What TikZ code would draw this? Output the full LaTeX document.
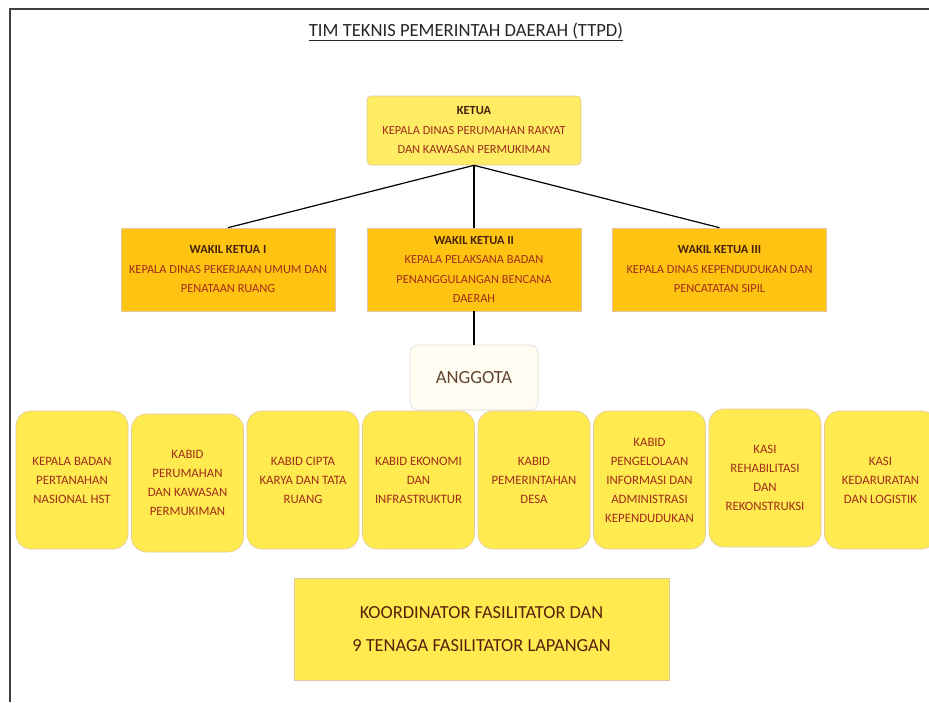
\documentclass[tikz,border=0pt]{standalone}
\usepackage{fontspec}
\setmainfont{Carlito}
\usepackage{tikz}
\usetikzlibrary{positioning,calc}
\definecolor{ketuakuning}{RGB}{253,236,100}
\definecolor{wakiloranye}{RGB}{255,196,18}
\definecolor{anggotakuning}{RGB}{255,234,80}
\definecolor{krem}{RGB}{255,253,242}
\definecolor{tepi}{RGB}{225,200,160}
\definecolor{teksmerah}{RGB}{160,45,25}
\definecolor{tekscoklat}{RGB}{70,35,10}
\tikzset{
  kotak/.style={draw=tepi, line width=0.6pt, align=center, text=teksmerah,
    font=\fontsize{12.4}{19.5}\selectfont, inner sep=2pt},
  ketuabox/.style={kotak, fill=ketuakuning, rounded corners=4pt,
    minimum width=214pt, minimum height=69pt},
  wakilbox/.style={kotak, fill=wakiloranye, minimum width=214pt, minimum height=83pt},
  anggotabox/.style={kotak, fill=anggotakuning, rounded corners=15pt,
    minimum width=112pt, minimum height=138pt, font=\fontsize{12.8}{19}\selectfont},
  garis/.style={line width=1.2pt, black}
}
\newcommand{\judul}[1]{{\bfseries\color{tekscoklat}#1}}
\begin{document}
\begin{tikzpicture}[x=1pt,y=1pt]
  \useasboundingbox (0,0) rectangle (929,-702);
  \draw[line width=1.8pt, black!75] (10,-702) -- (10,-9) -- (929,-9);
  \node[font=\fontsize{18.6}{22}\selectfont, text=black!85] (judul) at (466,-32)
    {\underline{TIM TEKNIS PEMERINTAH DAERAH (TTPD)}};

  \node[ketuabox] (ketua) at (474,-130.5)
    {\judul{KETUA}\\KEPALA DINAS PERUMAHAN RAKYAT\\DAN KAWASAN PERMUKIMAN};
  \node[wakilbox] (wk1) at (228,-269.5)
    {\judul{WAKIL KETUA I}\\KEPALA DINAS PEKERJAAN UMUM DAN\\PENATAAN RUANG};
  \node[wakilbox] (wk2) at (474,-269.5)
    {\judul{WAKIL KETUA II}\\KEPALA PELAKSANA BADAN\\PENANGGULANGAN BENCANA\\DAERAH};
  \node[wakilbox] (wk3) at (719.5,-269.5)
    {\judul{WAKIL KETUA III}\\KEPALA DINAS KEPENDUDUKAN DAN\\PENCATATAN SIPIL};
  \node[kotak, fill=krem, draw=black!15, rounded corners=8pt, text=tekscoklat!85,
    minimum width=128pt, minimum height=65pt,
    font=\fontsize{18.6}{22}\selectfont] (anggota) at (474,-377.5) {ANGGOTA};

  \draw[garis] (ketua.south) -- (wk1.north);
  \draw[garis] (ketua.south) -- (wk2.north);
  \draw[garis] (ketua.south) -- (wk3.north);
  \draw[garis] (wk2.south) -- (anggota.north);

  \node[anggotabox] (a1) at (72,-480) {KEPALA BADAN\\PERTANAHAN\\NASIONAL HST};
  \node[anggotabox] (a2) at (187.5,-483) {KABID\\PERUMAHAN\\DAN KAWASAN\\PERMUKIMAN};
  \node[anggotabox] (a3) at (303,-480) {KABID CIPTA\\KARYA DAN TATA\\RUANG};
  \node[anggotabox] (a4) at (418.5,-480) {KABID EKONOMI\\DAN\\INFRASTRUKTUR};
  \node[anggotabox] (a5) at (534,-480) {KABID\\PEMERINTAHAN\\DESA};
  \node[anggotabox] (a6) at (649.5,-480) {KABID\\PENGELOLAAN\\INFORMASI DAN\\ADMINISTRASI\\KEPENDUDUKAN};
  \node[anggotabox] (a7) at (765,-478) {KASI\\REHABILITASI\\DAN\\REKONSTRUKSI};
  \node[anggotabox] (a8) at (880.5,-480) {KASI\\KEDARURATAN\\DAN LOGISTIK};

  \node[kotak, fill=anggotakuning, text=tekscoklat!90!red, minimum width=375pt,
    minimum height=102pt, font=\fontsize{18.4}{33}\selectfont] (koord) at (481.5,-629)
    {KOORDINATOR FASILITATOR DAN\\9 TENAGA FASILITATOR LAPANGAN};
\end{tikzpicture}
\end{document}
